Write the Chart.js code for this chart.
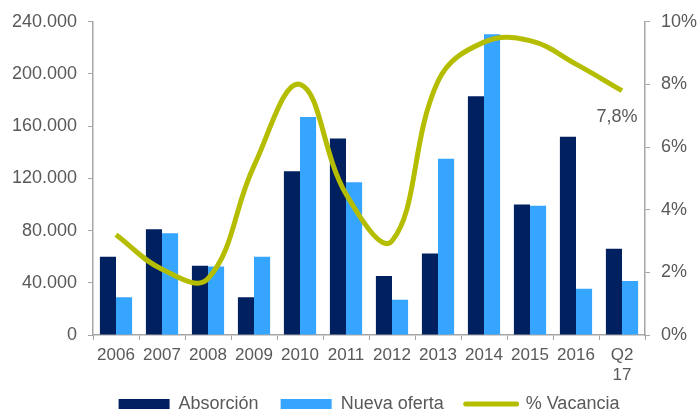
<!DOCTYPE html>
<html>
<head>
<meta charset="utf-8">
<script src="https://cdn.jsdelivr.net/npm/chart.js@4.4.1/dist/chart.umd.min.js"></script>
<style>
  html, body { margin: 0; padding: 0; background: #fff; }
</style>
</head>
<body>
<canvas id="chart" width="697" height="410"></canvas>
<script>
const years = ["2006", "2007", "2008", "2009", "2010", "2011", "2012", "2013", "2014", "2015", "2016", ["Q2", "17"]];
const absorcion = [60000, 81000, 53000, 29000, 125500, 150500, 45300, 62500, 183000, 100000, 152000, 66000];
const nuevaOferta = [29000, 78000, 52500, 60000, 167000, 117000, 27000, 135000, 230500, 99000, 35500, 41400];
const vacancia = [3.2, 2.1, 1.8, 5.4, 8.0, 4.5, 3.0, 8.1, 9.35, 9.4, 8.65, 7.8];

const textColor = "#595959";
const axisColor = "#A6A6A6";
const fontFamily = "'Liberation Sans', Arial, sans-serif";

Chart.defaults.font.family = fontFamily;
Chart.defaults.color = textColor;

// label for the last point of the vacancy line
const lastLabel = {
  id: "lastLabel",
  afterDatasetsDraw(chart) {
    const meta = chart.getDatasetMeta(2);
    const pt = meta.data[meta.data.length - 1];
    const ctx = chart.ctx;
    ctx.save();
    ctx.font = "18px " + fontFamily;
    ctx.fillStyle = textColor;
    ctx.textAlign = "center";
    ctx.textBaseline = "middle";
    const v = vacancia[vacancia.length - 1];
    ctx.fillText(String(v).replace(".", ",") + "%", pt.x - 5, pt.y + 26);
    ctx.restore();
  }
};

// pull the legend up a bit so it overlaps the bottom of the x axis box
const legendShift = {
  id: "legendShift",
  afterLayout(chart) {
    chart.legend.top -= 12;
    chart.legend.bottom -= 12;
  }
};

const pointSizes = vacancia.map((v, i) => (i === vacancia.length - 1 ? 6 : 0));

new Chart(document.getElementById("chart").getContext("2d"), {
  type: "bar",
  data: {
    labels: years,
    datasets: [
      {
        label: "Absorción",
        data: absorcion,
        backgroundColor: "#002060",
        yAxisID: "y",
        order: 1,
        pointStyle: "rect",
      },
      {
        label: "Nueva oferta",
        data: nuevaOferta,
        backgroundColor: "#36A5FF",
        yAxisID: "y",
        order: 2,
        pointStyle: "rect",
      },
      {
        type: "line",
        label: "% Vacancia",
        data: vacancia,
        borderColor: "#B4BD00",
        backgroundColor: "#B4BD00",
        borderWidth: 5,
        tension: 0.4,
        pointRadius: pointSizes,
        pointHoverRadius: pointSizes,
        pointBorderWidth: 0,
        pointStyle: "line",
        yAxisID: "y1",
        order: 0,
      },
    ],
  },
  options: {
    responsive: false,
    animation: false,
    layout: { padding: { top: 18, left: 0, right: 0, bottom: -25 } },
    datasets: {
      bar: { barPercentage: 1, categoryPercentage: 0.7 },
    },
    plugins: {
      tooltip: { enabled: false },
      legend: {
        position: "bottom",
        fullSize: false,
        labels: {
          usePointStyle: true,
          pointStyleWidth: 51,
          boxHeight: 10,
          padding: 22,
          font: { size: 18 },
          color: textColor,
          sort: (a, b) => a.datasetIndex - b.datasetIndex,
          generateLabels(chart) {
            const items = Chart.defaults.plugins.legend.labels.generateLabels(chart);
            items.forEach((it) => {
              if (it.datasetIndex === 2) {
                it.lineWidth = 5;
                it.lineCap = "round";
                it.strokeStyle = "#B4BD00";
              } else {
                it.lineWidth = 0;
              }
            });
            return items;
          },
        },
      },
    },
    scales: {
      x: {
        grid: { drawOnChartArea: false, tickLength: 5, color: axisColor },
        border: { color: axisColor, width: 1.5 },
        ticks: { font: { size: 17, lineHeight: 1.15 }, color: textColor, padding: 6, maxRotation: 0, autoSkip: false },
        afterFit: (s) => { s.height = 50; },
      },
      y: {
        position: "left",
        min: 0,
        max: 240000,
        grid: { drawOnChartArea: false, tickLength: 5, color: axisColor },
        border: { color: axisColor, width: 1.5 },
        ticks: {
          stepSize: 40000,
          font: { size: 18 },
          color: textColor,
          padding: 11,
          callback: (v) => String(v).replace(/\B(?=(\d{3})+(?!\d))/g, "."),
        },
        afterFit: (s) => { s.width = 93; },
      },
      y1: {
        position: "right",
        min: 0,
        max: 10,
        grid: { drawOnChartArea: false, tickLength: 5, color: axisColor },
        border: { color: axisColor, width: 1.5 },
        ticks: {
          stepSize: 2,
          font: { size: 18 },
          color: textColor,
          padding: 11,
          callback: (v) => v + "%",
        },
        afterFit: (s) => { s.width = 52; },
      },
    },
  },
  plugins: [lastLabel, legendShift],
});
</script>
</body>
</html>
